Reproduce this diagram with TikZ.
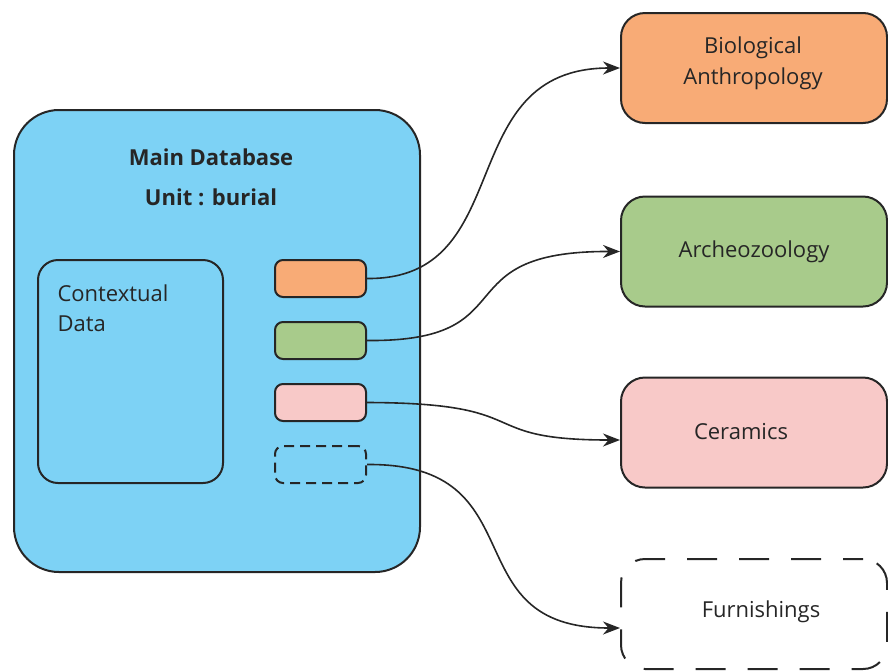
\documentclass[tikz,border=0pt]{standalone}
\usepackage{fontspec}
\setmainfont{Open Sans}
\usetikzlibrary{arrows.meta}
\definecolor{dbblue}{RGB}{125,210,245}
\definecolor{bioor}{RGB}{248,171,118}
\definecolor{arcgr}{RGB}{168,203,139}
\definecolor{cerpk}{RGB}{248,201,200}
\tikzset{
  bigbox/.style={draw=black!85, line width=2pt, rounded corners=24pt, minimum width=266pt, minimum height=110pt, inner sep=0pt},
  tab/.style={draw=black!85, line width=2pt, rounded corners=8pt, minimum width=91pt, minimum height=37pt, inner sep=0pt},
  lbl/.style={font=\fontsize{22}{30}\selectfont, align=center, text=black!85},
  link/.style={line width=1.6pt, draw=black!85, -{Stealth[length=17pt,width=13pt]}},
}
\begin{document}
\begin{tikzpicture}[x=1pt,y=-1pt]
\useasboundingbox (0,0) rectangle (888,670);
% main database
\node[draw=black!85, line width=2pt, fill=dbblue, rounded corners=45pt, minimum width=406pt, minimum height=462pt, inner sep=0pt] (db) at (217,341) {};
\node[lbl, font=\fontsize{22}{40}\selectfont\bfseries] (title) at (211,177) {Main Database\\Unit : burial};
\node[draw=black!85, line width=2pt, fill=dbblue, rounded corners=20pt, minimum width=185pt, minimum height=223pt, inner sep=0pt] (ctx) at (130.5,371.5) {};
\node[lbl, align=left, anchor=north west] (ctxt) at (54,281) {Contextual\\Data};
% tabs
\node[tab, fill=bioor] (t1) at (320.5,278.5) {};
\node[tab, fill=arcgr] (t2) at (320.5,340.5) {};
\node[tab, fill=cerpk] (t3) at (320.5,402.5) {};
\node[tab, dash pattern=on 10pt off 6pt] (t4) at (320.5,464.5) {};
% right boxes
\node[bigbox, fill=bioor] (bio) at (754,68) {};
\node[lbl, font=\fontsize{22}{31}\selectfont] at (753,63) {Biological\\Anthropology};
\node[bigbox, fill=arcgr, lbl] (arc) at (754,251.5) {Archeozoology};
\node[bigbox, fill=cerpk] (cer) at (754,432.5) {};
\node[lbl] at (741,432) {Ceramics};
\node[bigbox, dash pattern=on 30pt off 22pt, dash phase=10pt] (fur) at (754,614) {};
\node[lbl] at (761,612) {Furnishings};
% links
\draw[link] (t1.east) .. controls (520,280) and (450,68) .. (bio.west);
\draw[link] (t2.east) .. controls (530,342) and (440,251) .. (arc.west);
\draw[link] (t3.east) .. controls (540,403) and (470,440) .. (cer.west |- 0,440);
\draw[link] (t4.east) .. controls (540,463) and (450,628) .. (fur.west |- 0,628);
\end{tikzpicture}
\end{document}
